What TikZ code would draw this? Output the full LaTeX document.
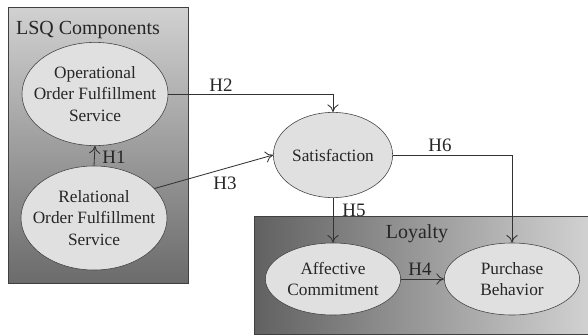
\documentclass[tikz,border=0pt]{standalone}
\usepackage{fontspec}
\setmainfont{Liberation Serif}
\usepackage{tikz}
\usetikzlibrary{shapes,arrows,arrows.meta,positioning,calc}

\tikzset{
  construct/.style={draw=black!75, ellipse, fill=black!12, inner sep=-3cm, align=center,
    text=black!85, font=\fontsize{12.3}{15.2}\selectfont},
  hyp/.style={text=black!85, font=\fontsize{13.5}{15}\selectfont, inner sep=0pt},
  link/.style={->, draw=black!80, line width=0.6pt, >={To[length=5.5pt,width=8pt]}}
}

\begin{document}
\begin{tikzpicture}[x=0.025cm, y=-0.025cm]
  \useasboundingbox (0,0) rectangle (588,336);

  % Group boxes
  \draw[draw=black!75, top color=black!18, bottom color=black!58] (8,7) rectangle (188,283);
  \draw[draw=black!75, left color=black!62, right color=black!18] (254,216) rectangle (588,334);
  \node[hyp, font=\fontsize{14.2}{16}\selectfont] (LSQ) at (88,30) {LSQ Components};
  \node[hyp, font=\fontsize{14.2}{16}\selectfont] (Loy) at (417,234) {Loyalty};

  % Constructs
  \node[construct, minimum width=3.65cm, minimum height=2.58cm]
    (Oper) at (95,94) {Operational\\Order Fulfillment\\Service};
  \node[construct, minimum width=3.65cm, minimum height=2.6cm]
    (Rel) at (94,218) {Relational\\Order Fulfillment\\Service};
  \node[construct, minimum width=2.98cm, minimum height=2.13cm]
    (Sat) at (333,155) {Satisfaction};
  \node[construct, minimum width=3.38cm, minimum height=1.8cm]
    (Aff) at (333,279) {Affective\\Commitment};
  \node[construct, minimum width=3.38cm, minimum height=1.8cm]
    (Purch) at (512,279) {Purchase\\Behavior};

  % Hypotheses
  \draw[link] (Rel.north) -- (Oper.south);
  \draw[link] (Oper.east) -| (Sat.north);
  \draw[link] (Rel.26) -- (Sat.west);
  \draw[link] (Aff.east) -- (Purch.west);
  \draw[link] (Sat.south) -- (Aff.north);
  \draw[link] (Sat.east) -| (Purch.north);
  \node[hyp] (H1) at (114,157) {H1};
  \node[hyp] (H2) at (221,85) {H2};
  \node[hyp] (H3) at (225,183) {H3};
  \node[hyp] (H4) at (420,269) {H4};
  \node[hyp] (H5) at (354,210) {H5};
  \node[hyp] (H6) at (440,145) {H6};
\end{tikzpicture}
\end{document}
